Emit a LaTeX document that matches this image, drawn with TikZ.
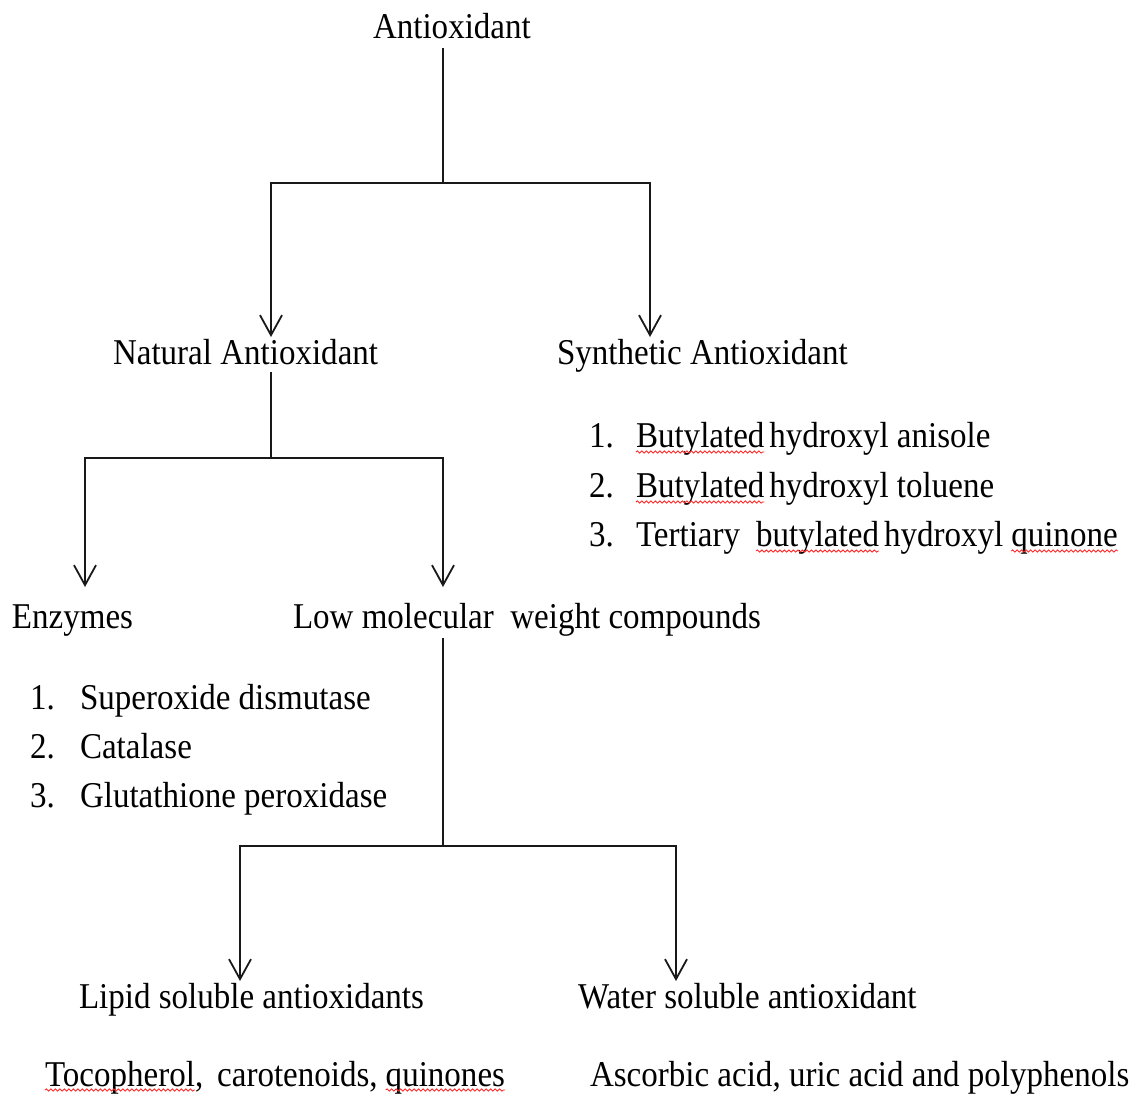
\documentclass[tikz,border=0pt]{standalone}
\usepackage{fontspec}
\setmainfont{Liberation Serif}[FakeStretch=0.91]
\usetikzlibrary{arrows.meta,decorations.pathmorphing}
\newcommand\fsz{\fontsize{36.3}{44}\selectfont}
\tikzset{
  txt/.style={inner sep=0pt, outer sep=0pt, anchor=base west, font=\fsz, text height=23pt, text depth=7pt},
  ln/.style={line width=1.8pt, draw=black!90},
  arr/.style={line width=1.8pt, draw=black!90, -{Straight Barb[length=20pt,width=22pt]}},
  wavy/.style={draw=red!85!white, line width=0.9pt, decorate, decoration={snake, amplitude=1.1pt, segment length=4.5pt}},
}
\begin{document}
\begin{tikzpicture}[x=1pt,y=-1pt]
\useasboundingbox (0,0) rectangle (1135,1093);
% main nodes
\node[txt] (root) at (373,38) {Antioxidant};
\node[txt] (nat) at (113,364) {Natural Antioxidant};
\node[txt] (syn) at (557,364) {Synthetic Antioxidant};
\node[txt] (enz) at (12,628) {Enzymes};
\node[txt] (low) at (293,628) {Low molecular~ weight compounds};
\node[txt] (lip) at (79,1008) {Lipid soluble antioxidants};
\node[txt] (wat) at (578,1008) {Water soluble antioxidant};
% synthetic list
\node[txt] (s1n) at (589,447) {1.};
\node[txt] (s1a) at (636,447) {Butylated};
\node[txt] (s1b) at ([xshift=5pt]s1a.base east) {hydroxyl anisole};
\node[txt] (s2n) at (589,497) {2.};
\node[txt] (s2a) at (636,497) {Butylated};
\node[txt] (s2b) at ([xshift=5pt]s2a.base east) {hydroxyl toluene};
\node[txt] (s3n) at (589,546) {3.};
\node[txt] (s3a) at (636,546) {Tertiary};
\node[txt] (s3b) at ([xshift=16pt]s3a.base east) {butylated};
\node[txt] (s3c) at ([xshift=5pt]s3b.base east) {hydroxyl};
\node[txt] (s3d) at ([xshift=8pt]s3c.base east) {quinone};
% enzyme list
\node[txt] (e1n) at (30,709) {1.};
\node[txt] (e1) at (80,709) {Superoxide dismutase};
\node[txt] (e2n) at (30,758) {2.};
\node[txt] (e2) at (80,758) {Catalase};
\node[txt] (e3n) at (30,807) {3.};
\node[txt] (e3) at (80,807) {Glutathione peroxidase};
% bottom lines
\node[txt] (t1) at (45,1086) {Tocopherol,};
\node[txt] (t2) at ([xshift=14pt]t1.base east) {carotenoids,};
\node[txt] (t3) at ([xshift=8pt]t2.base east) {quinones};
\node[txt] (asc) at (590,1086) {Ascorbic acid, uric acid and polyphenols};
% wavy underlines
\draw[wavy] ([yshift=-5pt]s1a.base west) -- ([yshift=-5pt]s1a.base east);
\draw[wavy] ([yshift=-5pt]s2a.base west) -- ([yshift=-5pt]s2a.base east);
\draw[wavy] ([yshift=-5pt]s3b.base west) -- ([yshift=-5pt]s3b.base east);
\draw[wavy] ([yshift=-5pt]s3d.base west) -- ([yshift=-5pt]s3d.base east);
\draw[wavy] ([yshift=-4pt]t1.base west) -- ([yshift=-4pt,xshift=-8pt]t1.base east);
\draw[wavy] ([yshift=-4pt]t3.base west) -- ([yshift=-4pt]t3.base east);
% junctions
\coordinate (j0) at (443,183);
\coordinate (xA) at (271,183);
\coordinate (xB) at (650,183);
\coordinate (j1) at (271,458);
\coordinate (xE) at (85,458);
\coordinate (xL) at (443,458);
\coordinate (j2) at (443,846);
\coordinate (xP) at (240,846);
\coordinate (xW) at (676,846);
% connectors
\draw[ln, shorten <=3pt] (root.south -| j0) -- (j0);
\draw[arr, shorten >=4pt] (j0) -| (xA |- nat.north);
\draw[arr, shorten >=4pt] (j0) -| (xB |- syn.north);
\draw[ln, shorten <=1pt] (nat.south -| j1) -- (j1);
\draw[arr, shorten >=18pt] (j1) -| (xE |- enz.north);
\draw[arr, shorten >=18pt] (j1) -| (xL |- low.north);
\draw[ln, shorten <=3pt] (low.south -| j2) -- (j2);
\draw[arr, shorten >=4pt] (j2) -| (xP |- lip.north);
\draw[arr, shorten >=4pt] (j2) -| (xW |- wat.north);
\end{tikzpicture}
\end{document}
